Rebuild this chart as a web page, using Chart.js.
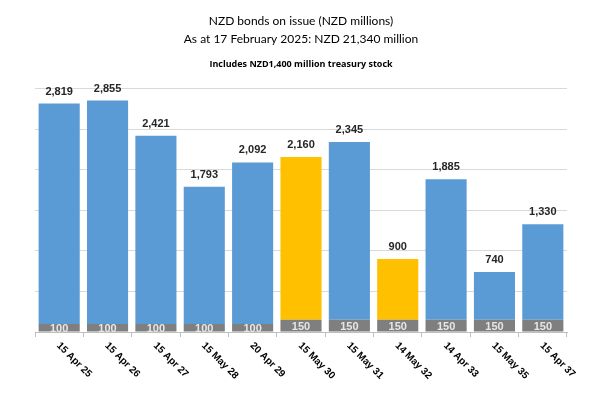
<!DOCTYPE html>
<html>
<head>
<meta charset="utf-8">
<script src="https://cdn.jsdelivr.net/npm/chart.js@4/dist/chart.umd.min.js"></script>
<style>
  html, body { margin: 0; padding: 0; background: #fff; }
  #wrap { width: 600px; height: 408px; }
</style>
</head>
<body>
<div id="wrap"><canvas id="bondChart" width="600" height="408"></canvas></div>
<script>
// bond maturities and amounts (NZD millions)
const maturities = ['15 Apr 25', '15 Apr 26', '15 Apr 27', '15 May 28', '20 Apr 29', '15 May 30',
                    '15 May 31', '14 May 32', '14 Apr 33', '15 May 35', '15 Apr 37'];
const totals = [2819, 2855, 2421, 1793, 2092, 2160, 2345, 900, 1885, 740, 1330];
const treasuryStock = [100, 100, 100, 100, 100, 150, 150, 150, 150, 150, 150];
const highlighted = ['15 May 30', '14 May 32'];

// the coloured part sits on top of the grey treasury stock, so its height is total minus stock
const outstanding = totals.map((t, i) => t - treasuryStock[i]);
const barColours = maturities.map(m => highlighted.includes(m) ? '#FFC000' : '#5B9BD5');

const fmt = new Intl.NumberFormat('en-US');

// draws the totals above the bars, stock values in the grey part, and slanted date labels
const labelPlugin = {
    id: 'bondLabels',
    afterDatasetsDraw(chart) {
        const ctx = chart.ctx;
        const base = chart.getDatasetMeta(0).data;
        const tops = chart.getDatasetMeta(1).data;
        const xScale = chart.scales.x;
        ctx.save();
        ctx.textAlign = 'center';
        for (let i = 0; i < tops.length; i++) {
            // total above bar
            ctx.font = 'bold 11px "Liberation Sans", Arial, sans-serif';
            ctx.fillStyle = '#262626';
            ctx.textBaseline = 'middle';
            ctx.fillText(fmt.format(totals[i]), tops[i].x, tops[i].y - 12);
            // treasury stock value inside grey part
            const g = base[i];
            ctx.font = 'bold 11px "Liberation Sans", Arial, sans-serif';
            ctx.fillStyle = '#e6e6e6';
            ctx.fillText(fmt.format(treasuryStock[i]), g.x, (g.y + g.base) / 2 + 1);
        }
        // category labels, slanted down to the right
        ctx.font = 'bold 10px "Liberation Sans", Arial, sans-serif';
        ctx.fillStyle = '#000';
        ctx.textAlign = 'left';
        ctx.textBaseline = 'middle';
        for (let i = 0; i < maturities.length; i++) {
            const x = xScale.getPixelForValue(i);
            ctx.save();
            ctx.translate(x - 1, xScale.top + 12);
            ctx.rotate(Math.PI / 4);
            ctx.fillText(maturities[i], 0, 0);
            ctx.restore();
        }
        ctx.restore();
    }
};

const chart = new Chart(document.getElementById('bondChart'), {
    type: 'bar',
    data: {
        labels: maturities,
        datasets: [{
            label: 'Treasury stock',
            data: treasuryStock,
            backgroundColor: '#7F7F7F',
            barPercentage: 0.85,
            categoryPercentage: 1.0
        }, {
            label: 'On issue',
            data: outstanding,
            backgroundColor: barColours,
            barPercentage: 0.85,
            categoryPercentage: 1.0
        }]
    },
    options: {
        responsive: false,
        animation: false,
        layout: { padding: { left: 35, right: 33, top: 0, bottom: 71 } },
        plugins: {
            legend: { display: false },
            tooltip: { enabled: false },
            title: {
                display: true,
                text: ['NZD bonds on issue (NZD millions)', 'As at 17 February 2025: NZD 21,340 million'],
                font: { family: 'Lato, "Open Sans", sans-serif', size: 12, weight: 'normal', lineHeight: 1.5 },
                color: '#000',
                padding: { top: 12, bottom: 6 }
            },
            subtitle: {
                display: true,
                text: 'Includes NZD1,400 million treasury stock',
                font: { family: '"Open Sans", sans-serif', size: 9, weight: 'bold' },
                color: '#000',
                padding: { top: 5, bottom: 19 }
            }
        },
        scales: {
            x: {
                stacked: true,
                grid: { display: true, offset: true, drawOnChartArea: false, tickLength: 5, color: '#bfbfbf' },
                border: { display: true, color: '#bfbfbf' },
                ticks: { display: false }
            },
            y: {
                stacked: true,
                min: 0,
                max: 3000,
                ticks: { display: false, stepSize: 500 },
                grid: { color: '#d9d9d9', drawTicks: false },
                border: { display: false }
            }
        }
    },
    plugins: [labelPlugin]
});
</script>
</body>
</html>
